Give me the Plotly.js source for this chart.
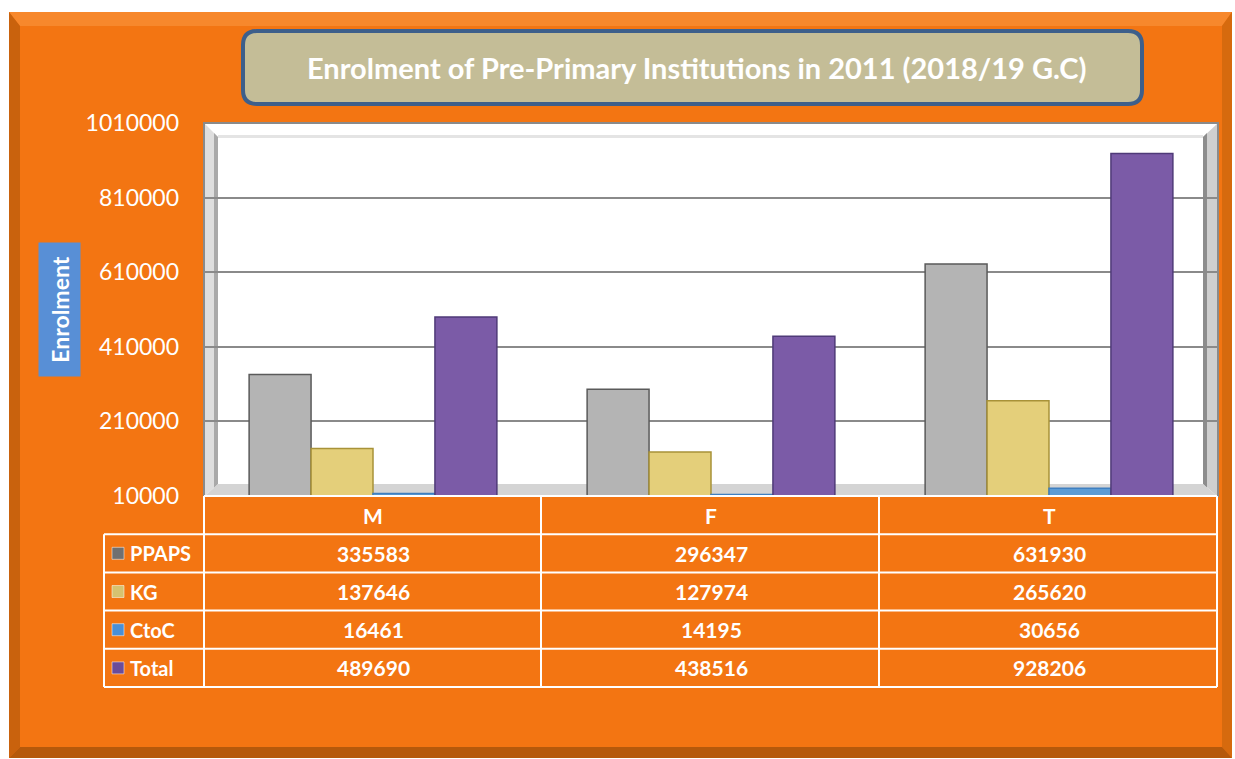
<!DOCTYPE html>
<html>
<head>
<meta charset="utf-8">
<script src="https://cdn.plot.ly/plotly-3.0.1.min.js"></script>
<style>html,body{margin:0;padding:0;background:#fff;}#chart{width:1235px;height:759px;}</style>
</head>
<body>
<div id="chart"></div>
<script>
// ---- data ----
const categories = ['M', 'F', 'T'];
const seriesNames = ['PPAPS', 'KG', 'CtoC', 'Total'];
const ppaps = [335583, 296347, 631930];
const kg = [137646, 127974, 265620];
const ctoc = [16461, 14195, 30656];
const total = [489690, 438516, 928206];
const titleText = 'Enrolment of Pre-Primary Institutions in 2011 (2018/19 G.C)';
const yTitleText = 'Enrolment';
const yRange = [10000, 1010000];
const yStep = 200000;

// ---- styles ----
const W = 1235, H = 759;
const ORANGE = '#f37512';
const FONT = 'Lato, sans-serif';
const seriesColors = ['#b4b4b4', '#e4cf7a', '#5b9bd5', '#7b5ba7'];
const seriesLines = ['#5a5a5a', '#a89238', '#3f7fc0', '#4f3a78'];
const keyColors = ['#707070', '#d6c270', '#4a8fd6', '#6a4c9a'];
const px = x => x / W;
const py = y => 1 - y / H;
function P(points) {
  return 'M ' + points.map(p => px(p[0]) + ',' + py(p[1])).join(' L ') + ' Z';
}
function roundRect(x0, y0, x1, y1, r) {
  const f = (x, y) => px(x) + ',' + py(y);
  return 'M ' + f(x0 + r, y0) + ' L ' + f(x1 - r, y0) + ' Q ' + f(x1, y0) + ' ' + f(x1, y0 + r) +
    ' L ' + f(x1, y1 - r) + ' Q ' + f(x1, y1) + ' ' + f(x1 - r, y1) +
    ' L ' + f(x0 + r, y1) + ' Q ' + f(x0, y1) + ' ' + f(x0, y1 - r) +
    ' L ' + f(x0, y0 + r) + ' Q ' + f(x0, y0) + ' ' + f(x0 + r, y0) + ' Z';
}
const pshape = (path, fill, lineColor, lw, layer) => ({
  type: 'path', xref: 'paper', yref: 'paper', layer: layer || 'below', path: path,
  fillcolor: fill, line: {color: lineColor || 'rgba(0,0,0,0)', width: lw || 0}
});
const lineShape = (x0, y0, x1, y1) => ({
  type: 'line', xref: 'paper', yref: 'paper', layer: 'above',
  x0: px(x0), y0: py(y0), x1: px(x1), y1: py(y1), line: {color: '#ffffff', width: 2}
});

const seriesValues = [ppaps, kg, ctoc, total];
const traces = seriesNames.map((name, i) => ({
  type: 'bar', name: name, x: categories, y: seriesValues[i],
  marker: {color: seriesColors[i], line: {color: seriesLines[i], width: 1.5}},
  hoverinfo: 'x+y+name'
}));

const shapes = [
  // orange chart area and bevels
  pshape(P([[9, 12], [1232, 12], [1232, 758], [9, 758]]), ORANGE),
  pshape(P([[9, 12], [1232, 12], [1222, 26], [20, 26]]), '#f7882c'),
  pshape(P([[9, 12], [20, 26], [20, 747], [9, 758]]), '#c9620d'),
  pshape(P([[1232, 12], [1232, 758], [1222, 747], [1222, 26]]), '#d66a0e'),
  pshape(P([[9, 758], [1232, 758], [1222, 747], [20, 747]]), '#b5590b'),
  // title box
  pshape(roundRect(243, 31, 1142, 104, 14), '#c4bd97', '#3d5f8b', 4),
  // plot area and walls
  pshape(P([[204, 123], [1218, 123], [1218, 496], [204, 496]]), '#ffffff', '#8a8a8a', 2),
  pshape(P([[205, 124], [218, 137], [218, 484], [205, 496]]), '#dedede'),
  pshape(P([[214, 133], [218, 137], [218, 484], [214, 488]]), '#a9a9a9'),
  pshape(P([[218, 135], [1203, 135], [1203, 138], [218, 138]]), '#e4e4e4'),
  pshape(P([[1217, 124], [1203, 137], [1203, 484], [1217, 496]]), '#cfcfcf'),
  pshape(P([[1203, 137], [1207, 133], [1207, 488], [1203, 484]]), '#8d8d8d'),
  pshape(P([[218, 484], [1203, 484], [1217, 496], [205, 496]]), '#d4d4d4')
];

// data table grid
const tableTop = 496, rowH = 38.2;
const rowY = k => tableTop + k * rowH;
const colX = [104, 204, 541, 879, 1217];
shapes.push(lineShape(204, rowY(0), 1217, rowY(0)));
for (let k = 1; k <= 5; k++) shapes.push(lineShape(104, rowY(k), 1217, rowY(k)));
shapes.push(lineShape(104, rowY(1), 104, rowY(5)));
for (let c = 1; c < colX.length; c++) shapes.push(lineShape(colX[c], rowY(0), colX[c], rowY(5)));

const annotations = [
  {xref: 'paper', yref: 'paper', x: px(697), y: py(67), xanchor: 'center', yanchor: 'middle',
   text: '<b>' + titleText + '</b>', showarrow: false,
   font: {family: FONT, size: 29, color: 'white'}},
  {xref: 'paper', yref: 'paper', x: px(59.5), y: py(309.5), xanchor: 'center', yanchor: 'middle',
   text: '<b>' + yTitleText + '</b>', showarrow: false, textangle: -90,
   width: 133, height: 41, bgcolor: '#588fd6', borderpad: 0,
   font: {family: FONT, size: 23, color: 'white'}}
];

// header row: categories
categories.forEach(c => annotations.push({
  xref: 'x', yref: 'paper', x: c, y: py((rowY(0) + rowY(1)) / 2), xanchor: 'center', yanchor: 'middle',
  text: '<b>' + c + '</b>', showarrow: false, font: {family: FONT, size: 21, color: 'white'}
}));
// series rows
seriesNames.forEach((name, i) => {
  const yc = (rowY(i + 1) + rowY(i + 2)) / 2;
  shapes.push({type: 'rect', xref: 'paper', yref: 'paper', layer: 'above',
    x0: px(112), x1: px(124), y0: py(yc + 6), y1: py(yc - 6),
    fillcolor: keyColors[i], line: {color: 'rgba(255,255,255,0.5)', width: 1}});
  annotations.push({xref: 'paper', yref: 'paper', x: px(128), y: py(yc), xanchor: 'left', yanchor: 'middle',
    text: '<b>' + name + '</b>', showarrow: false, font: {family: FONT, size: 20, color: 'white'}});
  categories.forEach((c, j) => annotations.push({
    xref: 'x', yref: 'paper', x: c, y: py(yc), xanchor: 'center', yanchor: 'middle',
    text: '<b>' + seriesValues[i][j] + '</b>', showarrow: false,
    font: {family: FONT, size: 21, color: 'white'}
  }));
});

const layout = {
  width: W, height: H,
  margin: {l: 0, r: 0, t: 0, b: 0, pad: 0},
  paper_bgcolor: '#ffffff',
  plot_bgcolor: 'rgba(0,0,0,0)',
  showlegend: false,
  barmode: 'group',
  bargap: 0.267,
  bargroupgap: 0,
  xaxis: {
    domain: [px(204), px(1218)],
    showticklabels: false, ticks: '', showgrid: false, zeroline: false,
    showline: false, fixedrange: true
  },
  yaxis: {
    domain: [py(496), py(123)],
    range: yRange, tick0: yRange[0], dtick: yStep,
    showgrid: true, gridcolor: '#8a8a8a', gridwidth: 2,
    zeroline: false, showline: false, ticks: '',
    ticklabelstandoff: 24,
    tickformat: 'd',
    tickfont: {family: FONT, size: 23, color: 'white'},
    fixedrange: true
  },
  shapes: shapes,
  annotations: annotations
};

Plotly.newPlot('chart', traces, layout, {displayModeBar: false, staticPlot: true});
</script>
</body>
</html>
